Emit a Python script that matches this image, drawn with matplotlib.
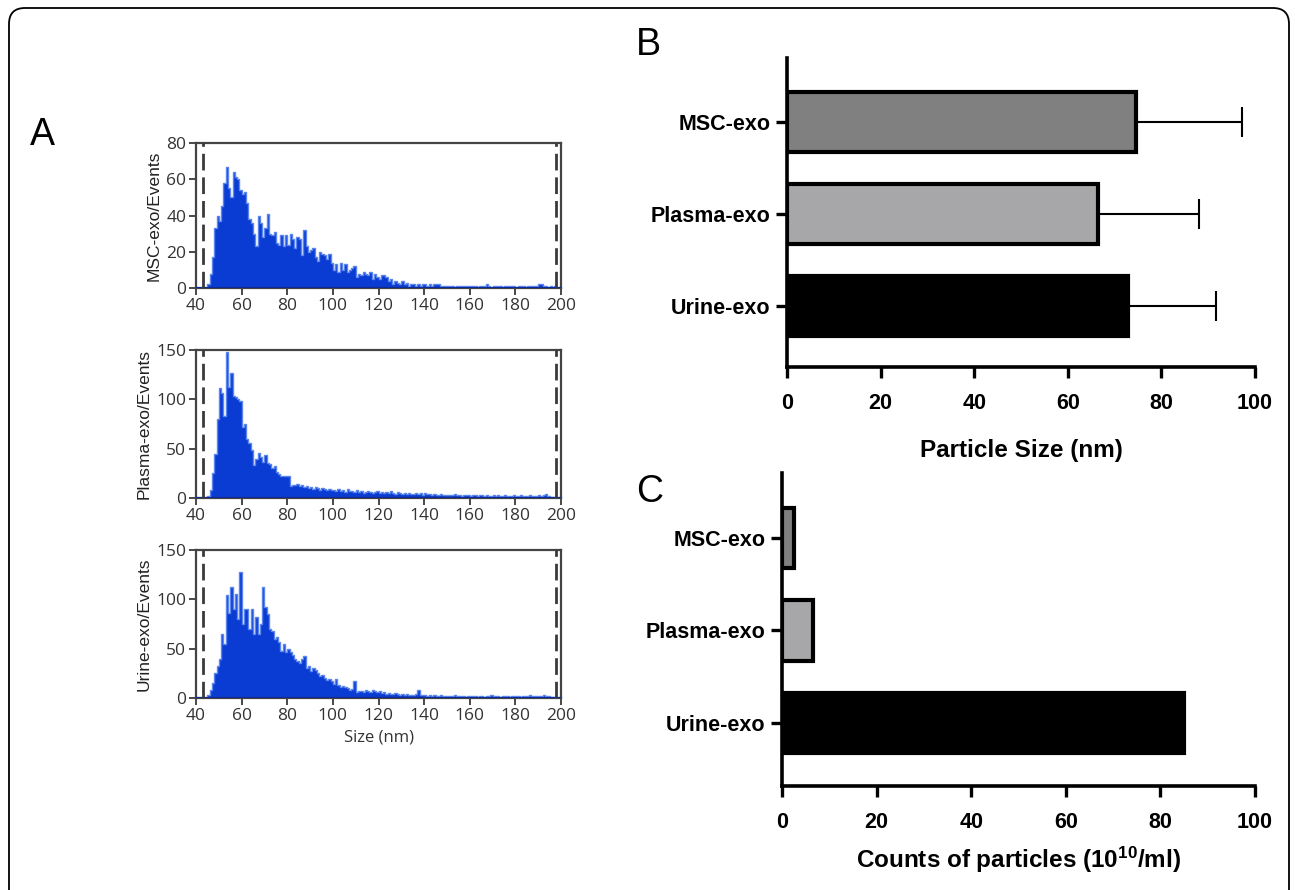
import matplotlib
matplotlib.use("Agg")
import matplotlib.pyplot as plt
from matplotlib.patches import FancyBboxPatch
import numpy as np

# ---------------- data ----------------
size_bins = list(range(40, 200))  # 1-nm bins, left edges

msc_events = [0, 0, 0, 0, 0, 2,
              8, 17, 33, 40, 37, 45, 58, 67, 55, 50,
              64, 61, 60, 54, 52, 53, 47, 38, 36, 30,
              23, 40, 36, 28, 33, 41, 30, 29, 31, 25,
              24, 29, 23, 29, 24, 30, 27, 22, 28, 27,
              18, 32, 23, 20, 21, 22, 17, 15, 20, 19,
              18, 16, 19, 14, 10, 13, 9, 14, 10, 13,
              9, 10, 11, 12, 6, 8, 7, 9, 8, 7,
              9, 5, 8, 6, 5, 7, 7, 6, 4, 5,
              2, 4, 3, 2, 4, 2, 3, 1, 2, 2,
              1, 2, 1, 2, 2, 1, 2, 1, 2, 2,
              2, 1, 1, 1, 1, 1, 1, 0, 1, 1,
              1, 1, 1, 1, 1, 1, 1, 0, 1, 1,
              1, 2, 1, 0, 1, 1, 1, 1, 0, 1,
              1, 1, 1, 1, 0, 1, 1, 1, 0, 1,
              1, 1, 1, 1, 2, 2, 1, 1, 0, 1,
              0, 1, 0, 0]

plasma_events = [0, 0, 0, 0, 0, 2,
                 8, 25, 45, 80, 111, 106, 83, 148, 113, 127,
                 103, 102, 100, 98, 72, 75, 60, 56, 49, 33,
                 40, 46, 42, 36, 44, 35, 34, 30, 32, 26,
                 24, 22, 22, 22, 22, 12, 13, 13, 14, 12,
                 13, 11, 12, 10, 11, 9, 11, 10, 8, 10,
                 9, 8, 9, 8, 8, 7, 9, 7, 8, 6,
                 9, 7, 7, 6, 8, 6, 7, 5, 6, 7,
                 6, 5, 6, 7, 5, 6, 5, 6, 5, 7,
                 5, 4, 6, 5, 4, 5, 4, 5, 4, 4,
                 5, 4, 5, 3, 5, 4, 4, 3, 4, 3,
                 3, 4, 3, 3, 3, 3, 3, 4, 3, 3,
                 2, 3, 3, 3, 2, 3, 3, 2, 3, 3,
                 2, 3, 2, 2, 3, 2, 3, 2, 2, 3,
                 2, 2, 2, 3, 2, 2, 3, 2, 2, 2,
                 3, 2, 2, 2, 3, 2, 3, 4, 2, 1,
                 1, 1, 0, 0]

urine_events = [0, 0, 0, 0, 0, 3,
                8, 15, 25, 32, 40, 65, 55, 104, 86, 113,
                90, 105, 80, 128, 75, 90, 90, 70, 90, 65,
                82, 65, 75, 112, 92, 85, 70, 68, 60, 62,
                57, 48, 55, 47, 50, 47, 44, 40, 38, 35,
                40, 43, 30, 32, 27, 30, 28, 25, 22, 23,
                20, 18, 19, 17, 14, 19, 13, 11, 12, 11,
                10, 8, 9, 17, 6, 7, 7, 6, 8, 7,
                6, 8, 7, 6, 7, 5, 6, 4, 5, 4,
                4, 5, 4, 3, 4, 3, 4, 3, 3, 3,
                4, 8, 3, 3, 3, 2, 3, 2, 3, 2,
                2, 3, 2, 2, 2, 2, 2, 3, 2, 2,
                2, 2, 1, 2, 2, 2, 2, 1, 2, 2,
                1, 2, 2, 3, 2, 2, 2, 1, 2, 2,
                2, 1, 2, 2, 2, 2, 1, 2, 2, 2,
                3, 2, 2, 2, 2, 2, 3, 2, 2, 1,
                1, 1, 0, 0]

hist_labels = ["MSC-exo/Events", "Plasma-exo/Events", "Urine-exo/Events"]
hist_yticks = [[0, 20, 40, 60, 80], [0, 50, 100, 150], [0, 50, 100, 150]]
gate_lo, gate_hi = 43, 198

categories = ["MSC-exo", "Plasma-exo", "Urine-exo"]
size_mean = [74.5, 66.4, 72.9]
size_err = [22.7, 21.6, 18.7]
particle_counts = [2.5, 6.5, 85.0]
bar_colors = ["#808080", "#a7a7a9", "#000000"]

# ---------------- figure ----------------
W, H = 1295, 890
fig = plt.figure(figsize=(W / 100, H / 100), dpi=100)
fig.patch.set_facecolor("white")


def ax_px(l, t, r, b):
    return fig.add_axes([l / W, 1 - b / H, (r - l) / W, (b - t) / H])


# rounded outer frame
frame = FancyBboxPatch((0.09, -0.5), 12.80, 8.82 + 0.5,
                       boxstyle="round,pad=0,rounding_size=0.16",
                       transform=fig.dpi_scale_trans, fill=False,
                       edgecolor="black", linewidth=1.3)
fig.add_artist(frame)

# panel letters
fig.text(42 / W, 1 - 135 / H, "A", fontsize=27, family="Liberation Sans",
         ha="center", va="center")
fig.text(648 / W, 1 - 45 / H, "B", fontsize=27, family="Liberation Sans",
         ha="center", va="center")
fig.text(650 / W, 1 - 492 / H, "C", fontsize=27, family="Liberation Sans",
         ha="center", va="center")

# ---------------- panel A ----------------
hist_boxes = [(196, 143, 561, 288), (196, 350, 561, 498), (196, 550, 561, 698)]
hist_data = [msc_events, plasma_events, urine_events]
tick_col = "#3a3a3a"
edges = np.array(size_bins, dtype=float)
for i, (box, data) in enumerate(zip(hist_boxes, hist_data)):
    ax = ax_px(*box)
    data = np.array(data, dtype=float)
    ax.bar(edges, data, width=1.0, align="edge", color="#0a3bd2",
           linewidth=0, zorder=2)
    ax.step(np.append(edges, 200), np.append(data, data[-1]), where="post",
            color="#5a86ee", linewidth=1.0, zorder=3)
    ax.axhline(0, color="#0a2aa0", linewidth=2.2, zorder=4)
    ax.axvline(gate_lo, color="#3a3a3a", linewidth=2, dashes=(6, 2.5), zorder=5)
    ax.axvline(gate_hi, color="#3a3a3a", linewidth=2, dashes=(6, 2.5), zorder=5)
    ax.set_xlim(40, 200)
    ax.set_ylim(0, hist_yticks[i][-1])
    ax.set_xticks(range(40, 201, 20))
    ax.set_yticks(hist_yticks[i])
    for s in ax.spines.values():
        s.set_color("#444444")
        s.set_linewidth(1.6)
    ax.tick_params(direction="out", length=5, width=1.3, colors=tick_col,
                   labelsize=12.5, pad=2)
    for lab in ax.get_xticklabels() + ax.get_yticklabels():
        lab.set_family("Open Sans")
        lab.set_color("#333333")
    ax.set_ylabel(hist_labels[i], fontsize=12.5, family="Liberation Sans",
                  color="#222222", labelpad=3)
    if i == 2:
        ax.set_xlabel("Size (nm)", fontsize=12, family="Open Sans",
                      color="#333333", labelpad=4)

# ---------------- panels B & C ----------------
plt.rcParams["mathtext.fontset"] = "custom"
plt.rcParams["mathtext.rm"] = "Liberation Sans:bold"
plt.rcParams["mathtext.bf"] = "Liberation Sans:bold"
plt.rcParams["mathtext.default"] = "regular"

ypos = np.arange(len(categories))[::-1]  # MSC top


def style_bar_axes(ax, xlabel, lpad):
    ax.spines["top"].set_visible(False)
    ax.spines["right"].set_visible(False)
    for s in ("left", "bottom"):
        ax.spines[s].set_linewidth(2.6)
        ax.spines[s].set_color("black")
    ax.set_xlim(0, 100)
    ax.set_xticks(range(0, 101, 20))
    ax.set_yticks(ypos)
    ax.set_yticklabels(categories)
    ax.tick_params(direction="out", length=8, width=2.4, labelsize=15.5)
    ax.tick_params(axis="x", pad=11)
    ax.tick_params(axis="y", pad=4)
    for lab in ax.get_xticklabels() + ax.get_yticklabels():
        lab.set_family("Liberation Sans")
        lab.set_fontweight("bold")
    ax.set_xlabel(xlabel, fontsize=17.5, family="Liberation Sans",
                  fontweight="bold", labelpad=lpad)


axB = ax_px(787, 58, 1255, 367)
axB.barh(ypos, size_mean, height=0.65, color=bar_colors, edgecolor="black",
         linewidth=3, zorder=2)
axB.errorbar(size_mean, ypos, xerr=[np.zeros(3), size_err], fmt="none",
             ecolor="black", elinewidth=1.5, capsize=11, capthick=1.5, zorder=1)
axB.set_ylim(-0.66, 2.70)
style_bar_axes(axB, "Particle Size (nm)", 18)

axC = ax_px(782, 473, 1255, 786)
axC.barh(ypos, particle_counts, height=0.65, color=bar_colors,
         edgecolor="black", linewidth=3, zorder=2)
axC.set_ylim(-0.68, 2.70)
style_bar_axes(axC, "Counts of particles (10$^{10}$/ml)", 8)

fig.savefig("out.png", dpi=100)
